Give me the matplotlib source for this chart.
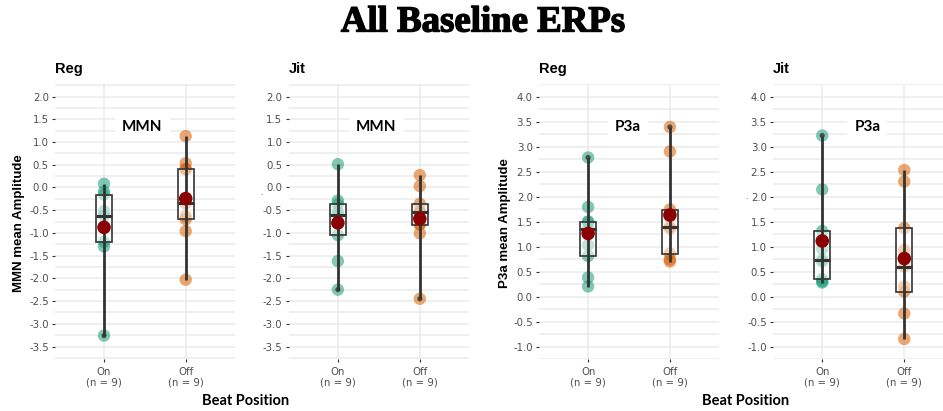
import numpy as np
import matplotlib
matplotlib.use("Agg")
import matplotlib.pyplot as plt
from matplotlib.patches import Rectangle
import matplotlib.patheffects as pe

# ---------------- data ----------------
categories = ["On", "Off"]
tick_labels = ["On\n(n = 9)", "Off\n(n = 9)"]
panel_titles = ["Reg", "Jit", "Reg", "Jit"]
component_labels = ["MMN", "MMN", "P3a", "P3a"]
y_labels = ["MMN mean Amplitude", ".", "P3a mean Amplitude", "."]

mmn_reg_on = [-3.26, -1.30, -1.20, -0.85, -0.62, -0.52, -0.16, -0.09, 0.08]
mmn_reg_off = [-2.03, -0.96, -0.70, -0.63, -0.35, 0.39, 0.41, 0.53, 1.13]
mmn_jit_on = [-2.25, -1.62, -1.05, -0.80, -0.61, -0.54, -0.37, -0.29, 0.51]
mmn_jit_off = [-2.45, -1.01, -0.82, -0.80, -0.54, -0.53, -0.36, 0.03, 0.27]
p3a_reg_on = [0.20, 0.38, 0.81, 1.03, 1.36, 1.49, 1.50, 1.79, 2.78]
p3a_reg_off = [0.70, 0.74, 0.86, 1.36, 1.39, 1.59, 1.74, 2.90, 3.39]
p3a_jit_on = [0.28, 0.30, 0.35, 0.70, 0.74, 0.95, 1.31, 2.14, 3.22]
p3a_jit_off = [-0.85, -0.34, 0.10, 0.20, 0.60, 0.93, 1.37, 2.30, 2.53]

panels = [
    (mmn_reg_on, mmn_reg_off),
    (mmn_jit_on, mmn_jit_off),
    (p3a_reg_on, p3a_reg_off),
    (p3a_jit_on, p3a_jit_off),
]
y_limits = [(-3.5, 2.0), (-3.5, 2.0), (-1.0, 4.0), (-1.0, 4.0)]
label_y = [1.32, 1.32, 3.39, 3.39]
label_x = [1.47, 1.47, 1.49, 1.55]

group_colors = ["#1B9E77", "#D95F02"]

# ---------------- figure ----------------
W, H = 943, 411
fig = plt.figure(figsize=(W / 100, H / 100), dpi=100)

ax_lr = [(55, 234.7), (288.7, 469), (539, 719), (773, 953.5)]
top_px, bot_px = 84, 359

tick_color = "#4D4D4D"
grid_color = "#EBEBEB"

for i, (lr, (on_vals, off_vals)) in enumerate(zip(ax_lr, panels)):
    l, r = lr
    ax = fig.add_axes([l / W, 1 - bot_px / H, (r - l) / W, (bot_px - top_px) / H])
    lo, hi = y_limits[i]
    pad = (hi - lo) * 0.05
    ax.set_ylim(lo - pad, hi + pad)
    ax.set_xlim(0.4, 2.6)
    for s in ax.spines.values():
        s.set_visible(False)
    yt = np.arange(lo, hi + 0.001, 0.5)
    ax.set_yticks(yt)
    ax.set_yticklabels([f"{v:.1f}" for v in yt])
    ax.set_yticks(np.arange(lo - 0.25, hi + 0.26, 0.25), minor=True)
    ax.set_xticks([1, 2])
    ax.set_xticklabels(tick_labels, linespacing=1.15)
    ax.tick_params(axis="both", which="major", labelsize=7.3, labelcolor=tick_color,
                   color="#333333", length=2.5, width=0.8, pad=2)
    ax.tick_params(axis="x", which="major", pad=3)
    ax.tick_params(axis="y", which="minor", length=0)
    ax.grid(True, which="major", color=grid_color, linewidth=1.1, zorder=0)
    ax.grid(True, which="minor", axis="y", color=grid_color, linewidth=1.1, zorder=0)
    ax.set_axisbelow(True)

    for j, vals in enumerate((on_vals, off_vals)):
        x = j + 1
        v = np.array(vals)
        q1, med, q3 = np.percentile(v, [25, 50, 75])
        iqr = q3 - q1
        outl = v[(v < q1 - 1.5 * iqr) | (v > q3 + 1.5 * iqr)]
        ax.scatter(np.full(len(v), x), v, s=80, color=group_colors[j], alpha=0.55,
                   edgecolors="none", zorder=2)
        bw = 0.1
        ax.add_patch(Rectangle((x - bw, q1), 2 * bw, q3 - q1, facecolor="white",
                               alpha=0.5, edgecolor="none", zorder=3))
        ax.add_patch(Rectangle((x - bw, q1), 2 * bw, q3 - q1, facecolor="none",
                               edgecolor="#333333", linewidth=1.2, zorder=4))
        ax.plot([x, x], [v.min(), v.max()], color="#333333", linewidth=2.0, zorder=5,
                solid_capstyle="butt")
        ax.plot([x - bw, x + bw], [med, med], color="#333333", linewidth=2.2, zorder=5,
                solid_capstyle="butt")
        if len(outl):
            ax.scatter(np.full(len(outl), x), outl, s=14, color="#333333", alpha=0.8,
                       edgecolors="none", zorder=6)
        ax.scatter([x], [v.mean()], s=95, color="#8B0000", edgecolors="none", zorder=7)

    ax.text(label_x[i], label_y[i], component_labels[i], ha="center", va="center",
            fontsize=11, fontweight="bold", family=["Lato", "DejaVu Sans"],
            bbox=dict(boxstyle="square,pad=0.45", facecolor="white", edgecolor="none"),
            zorder=8)

    fig.text(l / W, 1 - 69 / H, panel_titles[i], ha="left", va="center",
             fontsize=10.5, fontweight="bold", family="Liberation Sans")

# y labels
fig.text(19 / W, 1 - 223 / H, y_labels[0], rotation=90, ha="center", va="center",
         fontsize=9.5, fontweight="bold", family="Liberation Sans")
fig.text(505 / W, 1 - 223 / H, y_labels[2], rotation=90, ha="center", va="center",
         fontsize=9.5, fontweight="bold", family="Liberation Sans")
fig.text(261 / W, 1 - 193 / H, y_labels[1], ha="center", va="center",
         fontsize=6, color="#333333", family="Liberation Sans")
fig.text(746 / W, 1 - 197 / H, y_labels[3], ha="center", va="center",
         fontsize=6, color="#333333", family="Liberation Sans")

# x labels
for cx in (246, 746):
    fig.text(cx / W, 1 - 401 / H, "Beat Position", ha="center", va="center",
             fontsize=10.5, fontweight="bold", family=["Lato", "DejaVu Sans"])

# title
fig.text(483 / W, 1 - 22 / H, "All Baseline ERPs", ha="center", va="center",
         fontsize=26.5, fontweight="bold", family="Liberation Serif",
         path_effects=[pe.withStroke(linewidth=1.0, foreground="black")])

fig.savefig("out.png", dpi=100)
